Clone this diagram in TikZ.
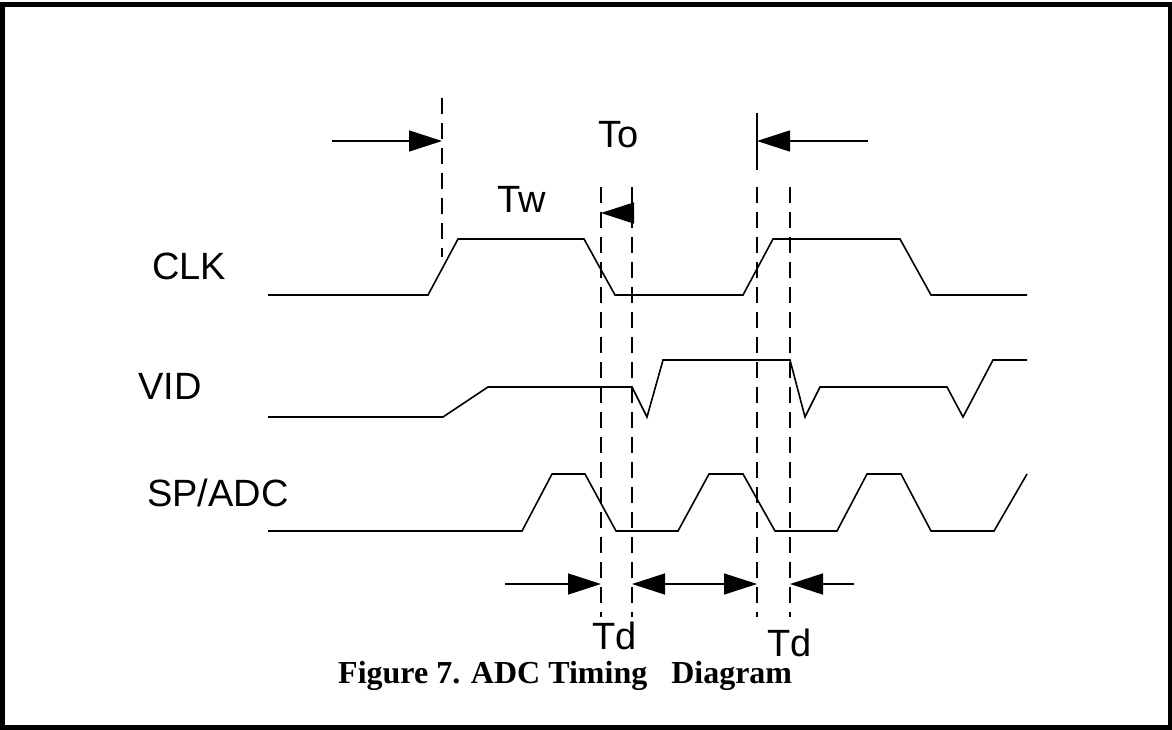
\documentclass[tikz,border=0pt]{standalone}
\usepackage{fontspec}
\setmainfont{Liberation Serif}
\newfontfamily\sigfont{Liberation Sans}
\usetikzlibrary{arrows.meta}

\tikzset{
	wave/.style={line width=1.6pt,line join=miter},
	guide/.style={line width=1.9pt,dash pattern=on 16pt off 9pt},
	dim/.style={line width=1.5pt},
	siglabel/.style={anchor=base west,inner sep=0pt,font=\sigfont\fontsize{38}{40}\selectfont},
}

\begin{document}
\begin{tikzpicture}[x=1pt,y=-1pt,>={Triangle[length=33pt,width=21pt]}]
		\useasboundingbox (0,0) rectangle (1172,730);
		\draw[line width=5pt] (2,4.5) rectangle (1170,727.5);
		% signal names
		\node[siglabel] (clk) at (152,279) {CLK};
		\node[siglabel] (vid) at (138,399) {VID};
		\node[siglabel] (spadc) at (147,506) {SP/ADC};
		% waveforms
		\draw[wave] (268,295) -- (428,295) -- (458,239) -- (584,239) -- (615,295)
			-- (743,295) -- (773,239) -- (900,239) -- (931,295) -- (1027,295);
		\draw[wave] (268,417) -- (443,417) -- (488,387) -- (632,387) -- (647,417)
			-- (663,360) -- (790,360) -- (805,417) -- (820,387) -- (947,387)
			-- (963,417) -- (993,360) -- (1027,360);
		\draw[wave] (268,531) -- (522,531) -- (552,474) -- (585,474) -- (616,531)
			-- (678,531) -- (709,474) -- (743,474) -- (775,531) -- (837,531)
			-- (867,474) -- (901,474) -- (931,531) -- (994,531) -- (1027,474);
		% timing guides
		\coordinate (ga) at (442,98);  \coordinate (ga end) at (442,257);
		\coordinate (gb) at (601,187); \coordinate (gb end) at (601,617);
		\coordinate (gc) at (632,187); \coordinate (gc end) at (632,617);
		\coordinate (gd) at (757,187); \coordinate (gd end) at (757,617);
		\coordinate (ge) at (790,187); \coordinate (ge end) at (790,617);
		\draw[guide] (ga) -- (ga end);
		\draw[guide] (gb) -- (gb end);
		\draw[guide] (gc) -- (gc end);
		\draw[guide] (gd) -- (gd end);
		\draw[guide] (ge) -- (ge end);
		\draw[line width=1.9pt] (757,113) coordinate (gd tick) -- (757,170) coordinate (gd tick end);
		% dimension arrows
		\coordinate (tw from) at (332,141); \coordinate (tw to) at (442,141);
		\coordinate (tn from) at (868,141); \coordinate (tn to) at (757,141);
		\coordinate (to from) at (632,213); \coordinate (to to) at (601,213);
		\coordinate (td from) at (505,584); \coordinate (td to) at (601,584);
		\coordinate (tm from) at (632,584); \coordinate (tm to) at (757,584);
		\coordinate (tr from) at (854,584); \coordinate (tr to) at (790,584);
		\draw[dim,->] (tw from) -- (tw to);
		\draw[dim,->] (tn from) -- (tn to);
		\draw[dim,->] (to from) -- (to to);
		\draw[dim,->] (td from) -- (td to);
		\draw[dim,<->] (tm from) -- (tm to);
		\draw[dim,->] (tr from) -- (tr to);
		% interval names
		\node[siglabel] (tw) at (497,212) {Tw};
		\node[siglabel] (to) at (598,148) {To};
		\node[siglabel] (td left) at (592,649) {Td};
		\node[siglabel] (td right) at (767,656) {Td};
		\node[anchor=base west,inner sep=0pt,font=\bfseries\fontsize{32}{34}\selectfont] (caption) at (338,683) {Figure 7. ADC Timing\ \ \ Diagram};
\end{tikzpicture}
\end{document}
